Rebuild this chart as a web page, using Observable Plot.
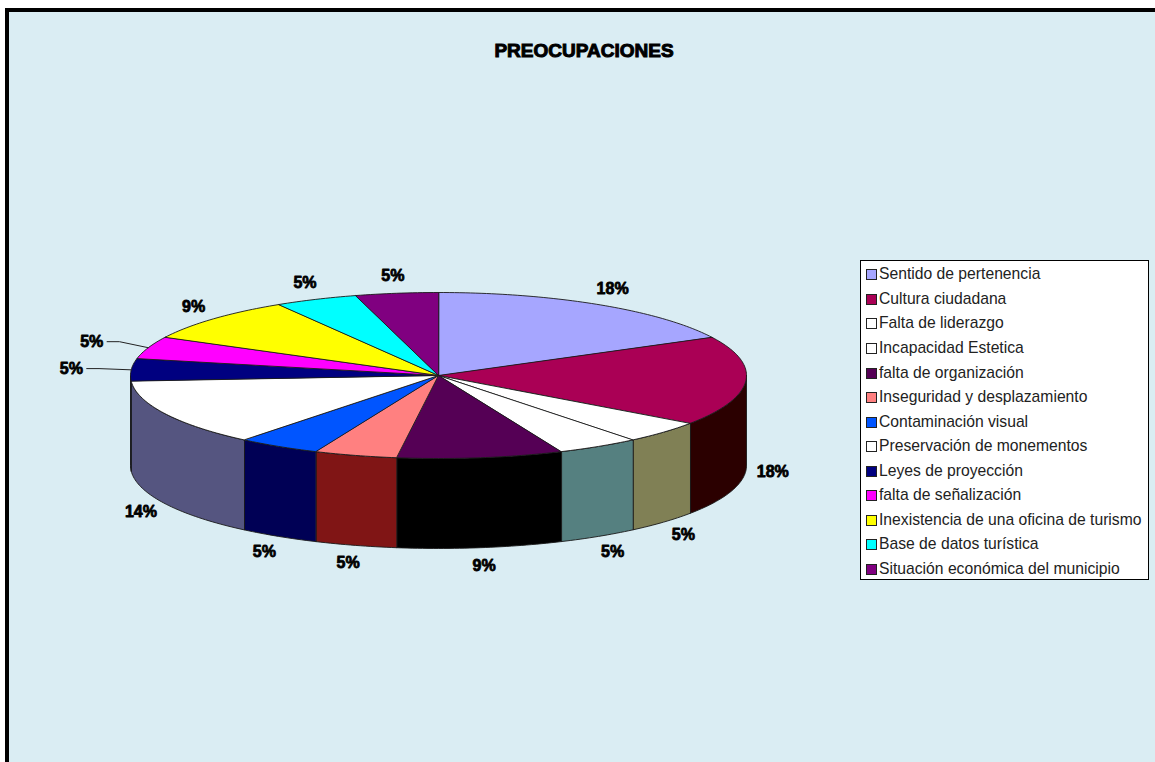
<!DOCTYPE html>
<html lang="es">
<head>
<meta charset="utf-8">
<script src="https://cdn.jsdelivr.net/npm/d3@7"></script>
<script src="https://cdn.jsdelivr.net/npm/@observablehq/plot@0.6"></script>
<style>
  html, body { margin: 0; padding: 0; background: #fff; overflow: hidden; width: 1155px; height: 762px; }
  #frame { position: absolute; left: 5px; top: 8px; width: 1200px; height: 800px; border: 4px solid #000; background: #DAEDF3; }
  #chart { position: absolute; left: 0; top: 0; }
  #chart svg { display: block; background: transparent; }
  #title { position: absolute; left: 384px; width: 400px; top: 40px; text-align: center; font: bold 19px/22px "Liberation Sans", Arial, sans-serif; color: #000; -webkit-text-stroke: 1px #000; }
  #legend { position: absolute; left: 860px; top: 260px; width: 287px; height: 318px; border: 1px solid #000; background: #fff; font: 15.7px/24.55px "Liberation Sans", Arial, sans-serif; color: #222; }
  #legend .row { position: absolute; left: 5px; height: 24.55px; white-space: nowrap; }
  #legend .sw { position: absolute; left: 0; top: 7px; width: 9px; height: 9px; border: 1px solid #222; }
  #legend .tx { position: absolute; left: 13px; top: 0; }
</style>
</head>
<body>
<div id="frame"></div>
<div id="chart"></div>
<div id="title">PREOCUPACIONES</div>
<div id="legend"></div>
<script>
const categories = ["Sentido de pertenencia","Cultura ciudadana","Falta de liderazgo","Incapacidad Estetica","falta de organización","Inseguridad y desplazamiento","Contaminación visual","Preservación de monementos","Leyes de proyección","falta de señalización","Inexistencia de una oficina de turismo","Base de datos turística","Situación económica del municipio"];
const counts = [4,4,1,1,2,1,1,3,1,1,2,1,1];
const percentLabels = ["18%","18%","5%","5%","9%","5%","5%","14%","5%","5%","9%","5%","5%"];
const topColors = ["#A6A6FF","#AA0055","#FFFFFF","#FFFFFF","#550055","#FF8080","#0055FF","#FFFFFF","#000080","#FF00FF","#FFFF00","#00FFFF","#800080"];
const sideColors = ["#535380","#2B0000","#808055","#558080","#000000","#801515","#000055","#555580","#000040","#800080","#808000","#008080","#400040"];
const leaderLabels = ["Leyes de proyección","falta de señalización"];

// Pie layout, in units of the ellipse radii
const depth = 1.084;
const rad = Math.PI / 180;
const total = d3.sum(counts);
let acc = 0;
const slices = categories.map((name, i) => {
  const a0 = acc / total * 360;
  acc += counts[i];
  const a1 = acc / total * 360;
  return {name, i, a0, a1, mid: (a0 + a1) / 2};
});
const rim = a => ({x: Math.sin(a * rad), y: -Math.cos(a * rad)});
const arc = (a0, a1) => {
  const n = Math.max(2, Math.ceil(a1 - a0) + 1);
  return d3.range(n).map(k => rim(a0 + (a1 - a0) * k / (n - 1)));
};

const line = {curve: "linear-closed", stroke: "#1a1a1a", strokeWidth: 0.9, strokeLinejoin: "round"};
const sideMarks = slices.filter(s => s.a1 > 90 && s.a0 < 270).map(s => {
  const pts = arc(Math.max(s.a0, 90), Math.min(s.a1, 270));
  const poly = [...pts, ...pts.slice().reverse().map(p => ({x: p.x, y: p.y + depth}))];
  return Plot.line(poly, {x: "x", y: "y", fill: sideColors[s.i], ...line});
});
const topMarks = slices.map(s =>
  Plot.line([{x: 0, y: 0}, ...arc(s.a0, s.a1)], {x: "x", y: "y", fill: topColors[s.i], ...line})
);

const labelData = slices.map(s => {
  const leader = leaderLabels.includes(s.name);
  const p = rim(s.mid);
  const kx = leader ? 1.195 : 1.088, ky = 1.217;
  return {
    text: percentLabels[s.i], leader, rim: p,
    x: p.x * kx,
    y: p.y * ky + (p.y > 0 ? depth : 0)
  };
});
const leaderMarks = labelData.filter(d => d.leader).map(d =>
  Plot.line([d.rim, {x: d.x + 0.09, y: d.y}, {x: d.x + 0.05, y: d.y}], {x: "x", y: "y", stroke: "#222", strokeWidth: 1})
);

const plot = Plot.plot({
  width: 1155, height: 762,
  margin: 0,
  style: {background: "transparent"},
  x: {domain: [-1, 1], range: [130, 746], axis: null},
  y: {domain: [-1, 1], range: [292, 458], axis: null},
  marks: [
    ...sideMarks,
    ...topMarks,
    ...leaderMarks,
    Plot.text(labelData, {
      x: "x", y: "y", text: "text",
      fontFamily: "Liberation Sans, Arial, sans-serif",
      fontWeight: "bold", fontSize: 16,
      fill: "#000", stroke: "#000", strokeWidth: 0.8
    })
  ]
});
document.getElementById("chart").append(plot);

const legend = d3.select("#legend");
categories.forEach((name, i) => {
  const row = legend.append("div").attr("class", "row").style("top", `${1.3 + i * 24.55}px`);
  row.append("span").attr("class", "sw").style("background", topColors[i]);
  row.append("span").attr("class", "tx").text(name);
});
</script>
</body>
</html>
